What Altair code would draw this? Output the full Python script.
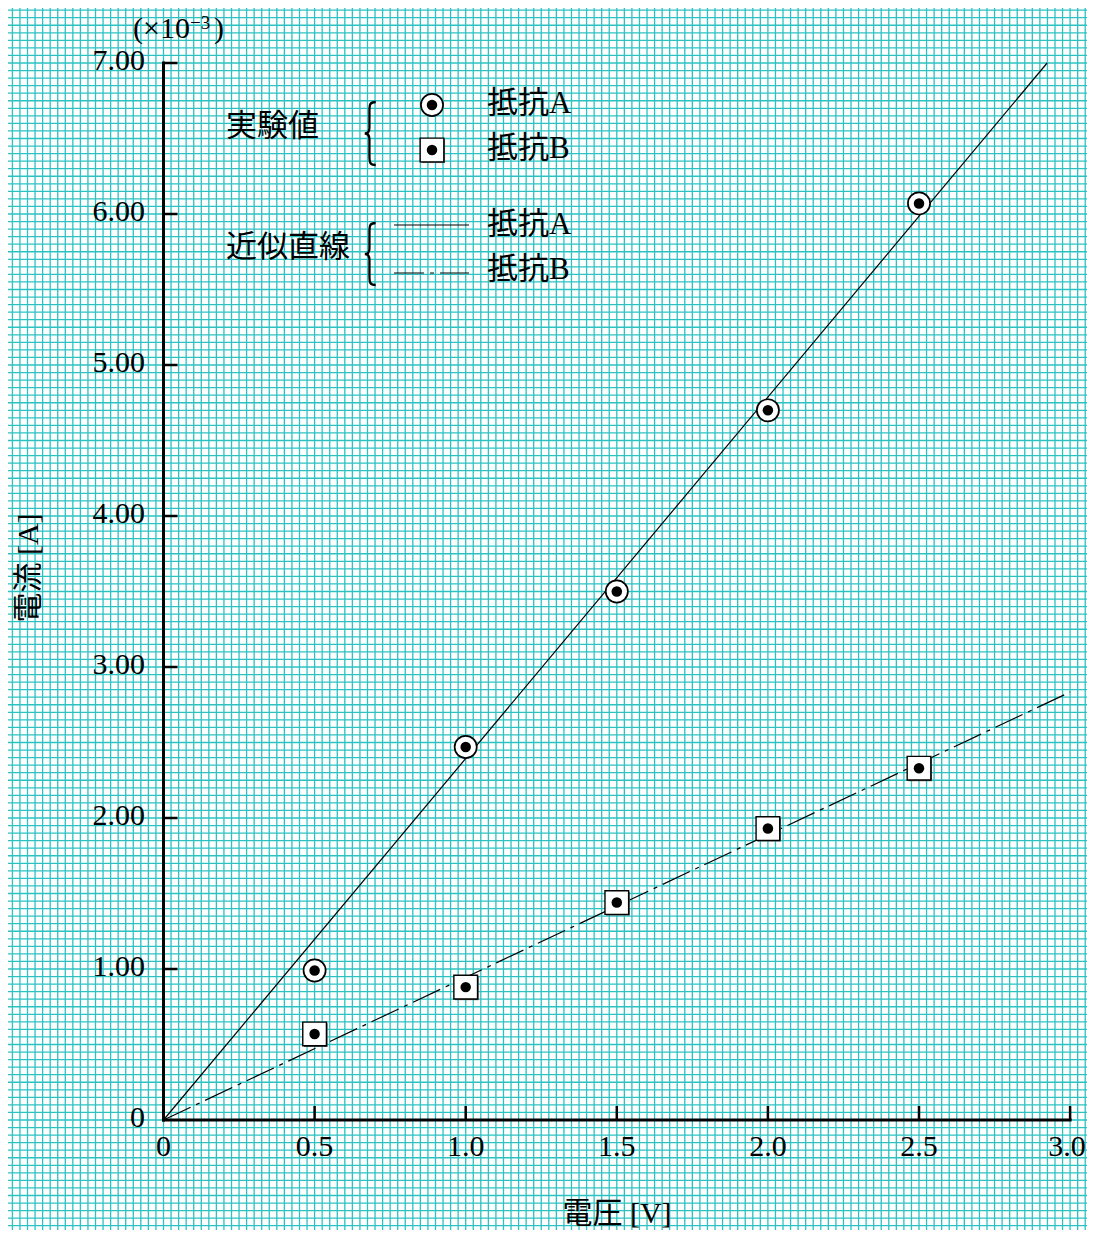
import altair as alt
import numpy as np
import pandas as pd

# ---------------- data ----------------
voltage = [0.5, 1.0, 1.5, 2.0, 2.5]
current_a = [0.99, 2.47, 3.50, 4.70, 6.07]   # x10^-3 A, 抵抗A
current_b = [0.57, 0.88, 1.44, 1.93, 2.33]   # x10^-3 A, 抵抗B

fit_a_x = [0.0, 2.924]
fit_a_y = [0.0, 7.0]
fit_b_x = [0.0, 3.0]
fit_b_y = [0.0, 2.834]

x_label_values = [0.0, 0.5, 1.0, 1.5, 2.0, 2.5, 3.0]
x_labels = ["0", "0.5", "1.0", "1.5", "2.0", "2.5", "3.0"]
y_label_values = [0, 1, 2, 3, 4, 5, 6, 7]
y_labels = ["0", "1.00", "2.00", "3.00", "4.00", "5.00", "6.00", "7.00"]

# ---------------- layout ----------------
W, H = 1079, 1222
X0_PX, PX_PER_V = 163.5, 302.2      # page px of x=0, px per volt
Y0_PX, PX_PER_MA = 1120.0, 151.0    # page px of y=0, px per 1e-3 A
XMIN = (8 - X0_PX) / PX_PER_V
XMAX = (8 + W - X0_PX) / PX_PER_V
YMAX = (Y0_PX - 8) / PX_PER_MA
YMIN = (Y0_PX - 8 - H) / PX_PER_MA

FONT = "Liberation Serif, 'Noto Sans CJK JP', serif"
GRID = "#2cc2c2"
FS = 30
LFS = 31

xs = alt.Scale(domain=[XMIN, XMAX], nice=False, zero=False)
ys = alt.Scale(domain=[YMIN, YMAX], nice=False, zero=False)


def X(f):
    return alt.X(f, type="quantitative", scale=xs, axis=None)


def Y(f):
    return alt.Y(f, type="quantitative", scale=ys, axis=None)


one = pd.DataFrame({"a": [0]})


def vx(px):
    return px - 8


def label(text, px, py, size=LFS, align="left", angle=0):
    return alt.Chart(one).mark_text(
        text=text, font=FONT, fontSize=size, align=align, baseline="middle",
        angle=angle, color="black"
    ).encode(x=alt.value(vx(px)), y=alt.value(vx(py)))


# ---------------- graph-paper grid ----------------
gx = pd.DataFrame({"gx": np.arange(np.ceil(XMIN / 0.025), np.floor(XMAX / 0.025) + 1) * 0.025})
gy = pd.DataFrame({"gy": np.arange(np.ceil(YMIN / 0.05), np.floor(YMAX / 0.05) + 1) * 0.05})
grid_v = alt.Chart(gx).mark_rule(color=GRID, strokeWidth=1.3).encode(x=X("gx"))
grid_h = alt.Chart(gy).mark_rule(color=GRID, strokeWidth=1.3).encode(y=Y("gy"))

# ---------------- axes ----------------
xaxis_df = pd.DataFrame({"x": [x_label_values[0]], "x2": [x_label_values[-1]], "y": [0.0]})
yaxis_df = pd.DataFrame({"x": [0.0], "y": [y_label_values[0]], "y2": [y_label_values[-1]]})
x_axis = alt.Chart(xaxis_df).mark_rule(color="black", strokeWidth=3, strokeCap="square").encode(
    x=X("x"), x2="x2", y=Y("y"))
y_axis = alt.Chart(yaxis_df).mark_rule(color="black", strokeWidth=3, strokeCap="square").encode(
    x=X("x"), y=Y("y"), y2="y2")

xt_df = pd.DataFrame({"v": x_label_values, "t": x_labels})
yt_df = pd.DataFrame({"v": y_label_values, "t": y_labels})

x_ticks = alt.Chart(xt_df[xt_df.v > 0]).mark_rule(color="black", strokeWidth=2.5).encode(
    x=X("v"), y=alt.value(vx(Y0_PX)), y2=alt.value(vx(Y0_PX - 14)))
y_ticks = alt.Chart(yt_df[yt_df.v > 0]).mark_rule(color="black", strokeWidth=2.5).encode(
    y=Y("v"), x=alt.value(vx(X0_PX)), x2=alt.value(vx(X0_PX + 14)))

last = xt_df.v == xt_df.v.max()
x_tlabels = alt.Chart(xt_df[~last]).mark_text(font=FONT, fontSize=FS, baseline="middle", align="center",
                                                dy=27, color="black").encode(
    x=X("v"), y=alt.value(vx(Y0_PX)), text="t:N")
x_tlabel_last = alt.Chart(xt_df[last]).mark_text(font=FONT, fontSize=FS, baseline="middle", align="center",
                                                   dy=27, dx=-3, color="black").encode(
    x=X("v"), y=alt.value(vx(Y0_PX)), text="t:N")
y_tlabels = alt.Chart(yt_df).mark_text(font=FONT, fontSize=FS, baseline="middle", align="right",
                                         dx=-18.5, dy=-2, color="black").encode(
    y=Y("v"), x=alt.value(vx(X0_PX)), text="t:N")

# ---------------- fitted lines ----------------
fa = pd.DataFrame({"x": fit_a_x, "y": fit_a_y})
fb = pd.DataFrame({"x": fit_b_x, "y": fit_b_y})
DASH = [30, 6, 4, 6]
line_a = alt.Chart(fa).mark_line(color="black", strokeWidth=1.2).encode(x=X("x"), y=Y("y"))
line_b = alt.Chart(fb).mark_line(color="black", strokeWidth=1.2, strokeDash=DASH).encode(x=X("x"), y=Y("y"))

# ---------------- measured points ----------------
pa = pd.DataFrame({"v": voltage, "i": current_a})
pb = pd.DataFrame({"v": voltage, "i": current_b})
CIRC = 490
SQ = 560
DOT = 110
a_ring = alt.Chart(pa).mark_point(shape="circle", size=CIRC, filled=True, fill="white",
                                  stroke="black", strokeWidth=1.7, opacity=1).encode(x=X("v"), y=Y("i"))
a_dot = alt.Chart(pa).mark_point(shape="circle", size=DOT, filled=True, color="black",
                                 opacity=1).encode(x=X("v"), y=Y("i"))
b_shadow = alt.Chart(pb).mark_point(shape="square", size=SQ, filled=True, color="#555555",
                                    opacity=1, xOffset=1.2, yOffset=1.2).encode(x=X("v"), y=Y("i"))
b_box = alt.Chart(pb).mark_point(shape="square", size=SQ, filled=True, fill="white",
                                 stroke="black", strokeWidth=1.4, opacity=1).encode(x=X("v"), y=Y("i"))
b_dot = alt.Chart(pb).mark_point(shape="circle", size=DOT, filled=True, color="black",
                                 opacity=1).encode(x=X("v"), y=Y("i"))

# ---------------- annotations / legend ----------------
BRACE = ("M 0.15 -1 C -0.04 -1 -0.05 -0.92 -0.05 -0.7 L -0.05 -0.18 "
         "C -0.05 -0.06 -0.1 0 -0.2 0 C -0.1 0 -0.05 0.06 -0.05 0.18 "
         "L -0.05 0.7 C -0.05 0.92 -0.04 1 0.15 1")


def brace(px, py, h):
    return alt.Chart(one).mark_point(shape=BRACE, size=h * h, filled=False, stroke="black",
                                     strokeWidth=2.3, opacity=1).encode(
        x=alt.value(vx(px)), y=alt.value(vx(py)))


def sym(shape, px, py, size, fill="white", sw=1.7):
    return alt.Chart(one).mark_point(shape=shape, size=size, filled=True, fill=fill,
                                     stroke="black", strokeWidth=sw, opacity=1).encode(
        x=alt.value(vx(px)), y=alt.value(vx(py)))


def dot(px, py):
    return alt.Chart(one).mark_point(shape="circle", size=DOT, filled=True, color="black",
                                     opacity=1).encode(x=alt.value(vx(px)), y=alt.value(vx(py)))


def hline(px1, px2, py, dash=None):
    kw = {"strokeDash": dash} if dash else {}
    return alt.Chart(one).mark_rule(color="black", strokeWidth=1.2, **kw).encode(
        x=alt.value(vx(px1)), x2=alt.value(vx(px2)), y=alt.value(vx(py)))


legend = [
    label("実験値", 226, 127),
    brace(371, 133.5, 63),
    sym("circle", 432, 105, CIRC),
    dot(432, 105),
    alt.Chart(one).mark_point(shape="square", size=SQ, filled=True, color="#555555", opacity=1,
                              xOffset=1.2, yOffset=1.2).encode(x=alt.value(vx(432)), y=alt.value(vx(150))),
    sym("square", 432, 150, SQ, sw=1.4),
    dot(432, 150),
    label("抵抗A", 487, 104),
    label("抵抗B", 487, 149),
    label("近似直線", 226, 248),
    brace(371, 254, 62),
    hline(394, 469, 225),
    hline(394, 469, 273, DASH),
    label("抵抗A", 487, 225),
    label("抵抗B", 487, 270),
]

titles = [
    label("電圧 [V]", 617, 1214, size=30, align="center"),
    label("電流 [A]", 29, 568, size=30, align="center", angle=270),
    label("(×10", 133, 29, size=30),
    label("−3", 190, 23, size=19),
    label(")", 214, 29, size=30),
]

chart = alt.layer(
    grid_v, grid_h,
    line_a, line_b,
    x_axis, y_axis, x_ticks, y_ticks, x_tlabels, x_tlabel_last, y_tlabels,
    a_ring, a_dot, b_shadow, b_box, b_dot,
    *legend, *titles,
).properties(
    width=W, height=H, padding=0, background="white",
    autosize=alt.AutoSizeParams(type="none"),
).configure_view(stroke=None)

chart.save("out.html", embed_options={"renderer": "svg", "actions": False})
